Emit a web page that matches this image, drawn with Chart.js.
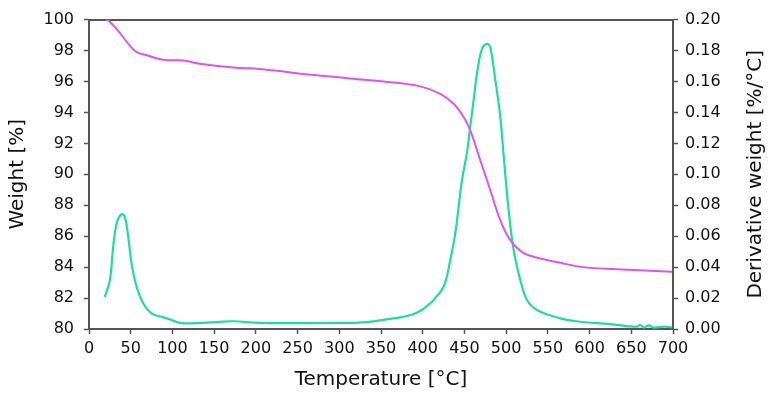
<!DOCTYPE html>
<html>
<head>
<meta charset="utf-8">
<script src="https://cdn.jsdelivr.net/npm/chart.js@4/dist/chart.umd.min.js"></script>
<style>
  html, body { margin: 0; padding: 0; background: #fff; }
  #wrap { width: 775px; height: 400px; }
</style>
</head>
<body>
<div id="wrap"><canvas id="tgaChart"></canvas></div>
<script>
// TGA curve: weight (left axis) and derivative weight (right axis)

const weightTemps = [20, 23, 33, 47, 57, 69, 89, 113, 133, 173, 205, 273, 353, 396, 421, 437, 449, 457, 469, 481, 493, 505, 521, 541, 565, 592, 633, 699];
const weightValues = [100, 99.95, 99.4, 98.45, 97.9, 97.7, 97.4, 97.35, 97.15, 96.9, 96.8, 96.4, 96.0, 95.7, 95.2, 94.56, 93.7, 92.84, 90.9, 88.97, 87.03, 85.74, 84.9, 84.56, 84.28, 84.0, 83.87, 83.7];

const derivTemps = [19, 25, 29, 33, 39, 43, 47, 51, 57, 65, 75, 89, 97, 109, 121, 153, 173, 205, 301, 333, 361, 373, 393, 409, 413, 425, 433, 439, 443, 447, 453, 457, 461, 465, 471, 477, 481, 487, 493, 497, 503, 509, 517, 525, 537, 565, 589, 625, 645, 657, 661, 665, 671, 677, 689, 699];
const derivValues = [0.0208, 0.0316, 0.0531, 0.068, 0.0742, 0.0725, 0.0596, 0.0424, 0.0273, 0.0166, 0.0101, 0.0075, 0.0062, 0.004, 0.0036, 0.0045, 0.005, 0.004, 0.0039, 0.0045, 0.0066, 0.0075, 0.0105, 0.0165, 0.0187, 0.0273, 0.0445, 0.0617, 0.0789, 0.096, 0.114, 0.131, 0.148, 0.165, 0.181, 0.1843, 0.182, 0.161, 0.137, 0.112, 0.0768, 0.051, 0.0316, 0.0187, 0.0123, 0.0069, 0.0047, 0.0032, 0.0019, 0.0015, 0.0026, 0.0009, 0.0024, 0.0009, 0.0015, 0.0011];

const xTicks = { min: 0, max: 700, step: 50 };
const weightTicks = { min: 80, max: 100, step: 2 };
const derivTicks = { min: 0, max: 0.2, step: 0.02 };

const axisColor = "#555555";
const textColor = "#111111";
const fontFamily = "'DejaVu Sans', Verdana, sans-serif";

function toPoints(xs, ys) {
  return xs.map((x, i) => ({ x: x, y: ys[i] }));
}

// right-hand title reads bottom-to-top like the left one
const rightTitlePlugin = {
  id: "rightTitle",
  afterDraw(chart) {
    const ctx = chart.ctx;
    const area = chart.chartArea;
    ctx.save();
    ctx.translate(756, (area.top + area.bottom) / 2);
    ctx.rotate(-Math.PI / 2);
    ctx.font = "20px " + fontFamily;
    ctx.fillStyle = textColor;
    ctx.textAlign = "center";
    ctx.textBaseline = "middle";
    ctx.fillText("Derivative weight [%/°C]", 0, 0);
    ctx.restore();
  },
};

const tickGrid = {
  display: true,
  drawOnChartArea: false,
  drawTicks: true,
  tickLength: 5,
  tickWidth: 1.5,
  color: axisColor,
};
const axisBorder = { display: true, color: axisColor, width: 2 };

new Chart(document.getElementById("tgaChart").getContext("2d"), {
  type: "line",
  data: {
    datasets: [
      {
        label: "Weight",
        data: toPoints(weightTemps, weightValues),
        borderColor: "#dd55ee",
        borderWidth: 2,
        pointRadius: 0,
        tension: 0.4,
        fill: false,
        yAxisID: "y",
      },
      {
        label: "Derivative weight",
        data: toPoints(derivTemps, derivValues),
        borderColor: "#22dd99",
        borderWidth: 2.2,
        pointRadius: 0,
        tension: 0.4,
        fill: false,
        yAxisID: "y2",
      },
    ],
  },
  plugins: [rightTitlePlugin],
  options: {
    responsive: true,
    maintainAspectRatio: false,
    animation: false,
    layout: { padding: 0 },
    plugins: {
      legend: { display: false },
      tooltip: { enabled: false },
    },
    scales: {
      x: {
        type: "linear",
        position: "bottom",
        min: xTicks.min,
        max: xTicks.max,
        grid: tickGrid,
        border: axisBorder,
        ticks: {
          stepSize: xTicks.step,
          color: textColor,
          padding: 5,
          maxRotation: 0,
          autoSkip: false,
          font: { family: fontFamily, size: 16 },
        },
        title: {
          display: true,
          text: "Temperature [°C]",
          color: textColor,
          padding: { top: 0, bottom: 8 },
          font: { family: fontFamily, size: 20 },
        },
        afterFit(scale) {
          scale.height = 71;
        },
      },
      xTop: {
        type: "linear",
        position: "top",
        min: xTicks.min,
        max: xTicks.max,
        grid: { display: false },
        border: axisBorder,
        ticks: { display: false },
        afterFit(scale) {
          scale.height = 19;
        },
      },
      y: {
        type: "linear",
        position: "left",
        min: weightTicks.min,
        max: weightTicks.max,
        grid: tickGrid,
        border: axisBorder,
        ticks: {
          stepSize: weightTicks.step,
          color: textColor,
          padding: 10,
          autoSkip: false,
          font: { family: fontFamily, size: 16 },
        },
        title: {
          display: true,
          text: "Weight [%]",
          color: textColor,
          padding: { top: 6, bottom: 0 },
          font: { family: fontFamily, size: 20 },
        },
        afterFit(scale) {
          scale.width = 89;
        },
      },
      y2: {
        type: "linear",
        position: "right",
        min: derivTicks.min,
        max: derivTicks.max,
        grid: tickGrid,
        border: axisBorder,
        ticks: {
          stepSize: derivTicks.step,
          color: textColor,
          padding: 7,
          autoSkip: false,
          font: { family: fontFamily, size: 16 },
          callback: function (value) {
            return value.toFixed(2);
          },
        },
        afterFit(scale) {
          scale.width = 102;
        },
      },
    },
  },
});
</script>
</body>
</html>
